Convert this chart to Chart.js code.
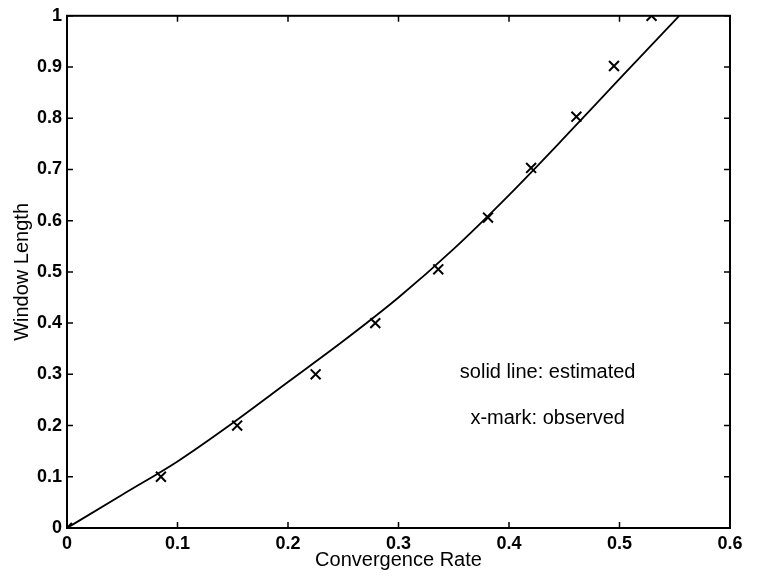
<!DOCTYPE html>
<html>
<head>
<meta charset="utf-8">
<script src="https://cdn.jsdelivr.net/npm/chart.js@4.4.1/dist/chart.umd.min.js"></script>
<style>
    html, body { margin: 0; padding: 0; background: #fff; }
    #wrap { width: 757px; height: 578px; }
</style>
</head>
<body>
<div id="wrap"><canvas id="chart" width="757" height="578"></canvas></div>
<script>
// estimated curve
const curveX = [0, 0.05, 0.1, 0.15, 0.2, 0.25, 0.3, 0.35, 0.4, 0.45, 0.5, 0.554];
const curveY = [0, 0.065, 0.13, 0.205, 0.285, 0.365, 0.45, 0.545, 0.65, 0.762, 0.877, 1.0];

// observed x-marks
const obsX = [0, 0.085, 0.154, 0.225, 0.279, 0.336, 0.381, 0.42, 0.461, 0.495, 0.529];
const obsY = [0, 0.1, 0.2, 0.3, 0.4, 0.505, 0.606, 0.703, 0.803, 0.902, 1.0];

const xTicks = [0, 0.1, 0.2, 0.3, 0.4, 0.5, 0.6];
const yTicks = [0, 0.1, 0.2, 0.3, 0.4, 0.5, 0.6, 0.7, 0.8, 0.9, 1];

const notes = [
    { text: 'solid line: estimated', x: 0.435, y: 0.303 },
    { text: 'x-mark: observed', x: 0.435, y: 0.214 }
];

const font = '"Liberation Sans", Arial, Helvetica, sans-serif';

// box round the plot and inward tick marks on all four sides, matlab style
const framePlugin = {
    id: 'frame',
    afterDatasetsDraw(chart) {
        const { ctx, chartArea: a, scales } = chart;
        const len = 6;
        ctx.save();
        ctx.strokeStyle = '#000';
        ctx.lineWidth = 2;
        ctx.strokeRect(a.left, a.top, a.right - a.left, a.bottom - a.top);
        ctx.lineWidth = 1.5;
        ctx.beginPath();
        xTicks.forEach(v => {
            const px = scales.x.getPixelForValue(v);
            ctx.moveTo(px, a.bottom); ctx.lineTo(px, a.bottom - len);
            ctx.moveTo(px, a.top); ctx.lineTo(px, a.top + len);
        });
        yTicks.forEach(v => {
            const py = scales.y.getPixelForValue(v);
            ctx.moveTo(a.left, py); ctx.lineTo(a.left + len, py);
            ctx.moveTo(a.right, py); ctx.lineTo(a.right - len, py);
        });
        ctx.stroke();

        ctx.fillStyle = '#000';
        ctx.font = '20px ' + font;
        ctx.textAlign = 'center';
        ctx.textBaseline = 'middle';
        notes.forEach(n => {
            ctx.fillText(n.text, scales.x.getPixelForValue(n.x), scales.y.getPixelForValue(n.y));
        });
        ctx.restore();
    }
};

const ctx = document.getElementById('chart').getContext('2d');
new Chart(ctx, {
    type: 'scatter',
    data: {
        datasets: [
            {
                label: 'estimated',
                data: curveX.map((x, i) => ({ x: x, y: curveY[i] })),
                showLine: true,
                borderColor: '#000',
                borderWidth: 1.8,
                pointRadius: 0,
                cubicInterpolationMode: 'monotone',
                fill: false
            },
            {
                label: 'observed',
                data: obsX.map((x, i) => ({ x: x, y: obsY[i] })),
                showLine: false,
                pointStyle: 'crossRot',
                pointRadius: 7,
                borderColor: '#000',
                borderWidth: 2,
                backgroundColor: '#000'
            }
        ]
    },
    options: {
        responsive: false,
        animation: false,
        layout: { padding: { top: 14, right: 27, left: 0, bottom: 0 } },
        plugins: {
            legend: { display: false },
            tooltip: { enabled: false }
        },
        scales: {
            x: {
                type: 'linear',
                min: 0,
                max: 0.6,
                afterFit(scale) { scale.height = 50; },
                afterBuildTicks(scale) { scale.ticks = xTicks.map(v => ({ value: v })); },
                grid: { display: false, drawTicks: false },
                border: { display: false },
                ticks: {
                    padding: 5,
                    color: '#000',
                    font: { family: font, size: 18, weight: 'bold' },
                    maxRotation: 0,
                    callback: v => String(v)
                },
                title: {
                    display: true,
                    text: 'Convergence Rate',
                    color: '#000',
                    font: { family: font, size: 20 },
                    padding: { top: 0, bottom: 6 }
                }
            },
            y: {
                type: 'linear',
                min: 0,
                max: 1,
                afterFit(scale) { scale.width = 67; },
                afterBuildTicks(scale) { scale.ticks = yTicks.map(v => ({ value: v })); },
                grid: { display: false, drawTicks: false },
                border: { display: false },
                ticks: {
                    padding: 5,
                    color: '#000',
                    font: { family: font, size: 18, weight: 'bold' },
                    callback: v => String(v)
                },
                title: {
                    display: true,
                    text: 'Window Length',
                    color: '#000',
                    font: { family: font, size: 20 },
                    padding: { top: 10, bottom: 0 }
                }
            }
        }
    },
    plugins: [framePlugin]
});
</script>
</body>
</html>
